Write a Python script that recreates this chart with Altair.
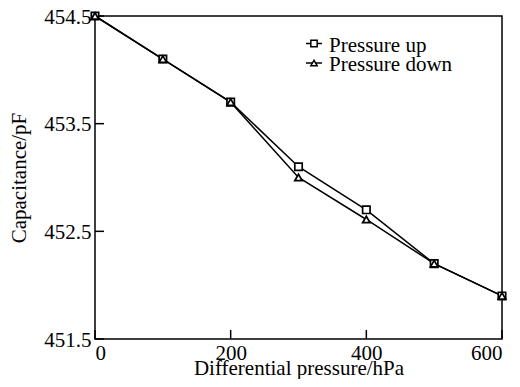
import altair as alt
import pandas as pd

pressure = [0, 100, 200, 300, 400, 500, 600]
cap_up = [454.5, 454.1, 453.7, 453.1, 452.7, 452.2, 451.9]
cap_down = [454.5, 454.1, 453.7, 453.0, 452.61, 452.2, 451.9]
series_names = ["Pressure up", "Pressure down"]
series_shapes = ["square", "triangle-up"]
x_ticks = [0, 200, 400, 600]
y_ticks = [451.5, 452.5, 453.5, 454.5]

rows = []
for name, vals in zip(series_names, [cap_up, cap_down]):
    for p, c in zip(pressure, vals):
        rows.append({"p": p, "c": c, "series": name})
df = pd.DataFrame(rows)

FONT = "Liberation Serif"
FS = 21
W, H = 407, 323

xs = alt.Scale(domain=[0, 600], nice=False, zero=False)
ys = alt.Scale(domain=[451.5, 454.5], nice=False, zero=False)

base = alt.Chart(df)

lines = base.mark_line(color="black", strokeWidth=1.5).encode(
    x=alt.X("p:Q", scale=xs,
            axis=alt.Axis(values=x_ticks, title="Differential pressure/hPa",
                          domain=False, ticks=False, grid=False, labelPadding=3,
                          titleY=35, titleBaseline="alphabetic", format="d")),
    y=alt.Y("c:Q", scale=ys,
            axis=alt.Axis(values=y_ticks, title="Capacitance/pF",
                          domain=False, ticks=False, grid=False, labelPadding=4,
                          labelOffset=1, titleX=-70, titleBaseline="alphabetic",
                          format=".1f")),
    detail="series:N",
)

points = base.mark_point(filled=False, stroke="black", strokeWidth=1.7,
                         fill="white", fillOpacity=1, size=55).encode(
    x=alt.X("p:Q", scale=xs),
    y=alt.Y("c:Q", scale=ys),
    shape=alt.Shape("series:N", scale=alt.Scale(domain=series_names, range=series_shapes),
                    legend=None),
)

one = pd.DataFrame({"a": [0]})
ytick_df = pd.DataFrame({"c": y_ticks})
xtick_df = pd.DataFrame({"p": x_ticks})

yticks = alt.Chart(ytick_df).mark_rule(color="black", strokeWidth=1.5).encode(
    y=alt.Y("c:Q", scale=ys), x=alt.value(0), x2=alt.value(9))
xticks = alt.Chart(xtick_df).mark_rule(color="black", strokeWidth=1.5).encode(
    x=alt.X("p:Q", scale=xs), y=alt.value(H), y2=alt.value(H - 9))

legend_layers = []
for i, (name, shp) in enumerate(zip(series_names, series_shapes)):
    yl = 27.5 + 19.5 * i
    legend_layers.append(alt.Chart(one).mark_rule(color="black", strokeWidth=1.5).encode(
        x=alt.value(211), x2=alt.value(227), y=alt.value(yl)))
    legend_layers.append(alt.Chart(one).mark_point(shape=shp, filled=False, stroke="black",
                                                   strokeWidth=1.5, fill="white", fillOpacity=1,
                                                   size=40).encode(
        x=alt.value(219), y=alt.value(yl)))
    legend_layers.append(alt.Chart(one).mark_text(align="left", baseline="alphabetic", font=FONT,
                                                  fontSize=FS, color="black").encode(
        x=alt.value(234), y=alt.value(yl + 8.3), text=alt.value(name)))

chart = alt.layer(lines, yticks, xticks, points, *legend_layers).properties(
    width=W, height=H,
    background="white",
    autosize=alt.AutoSizeParams(type="none"),
    padding={"left": 87, "top": 8, "right": 10, "bottom": 40},
).configure_view(stroke="black", strokeWidth=1.5).configure_axis(
    labelFont=FONT, titleFont=FONT, labelFontSize=FS, titleFontSize=FS,
    labelColor="black", titleColor="black", titleFontWeight="normal",
)

chart.save("out.html", embed_options={"renderer": "svg", "actions": False})
